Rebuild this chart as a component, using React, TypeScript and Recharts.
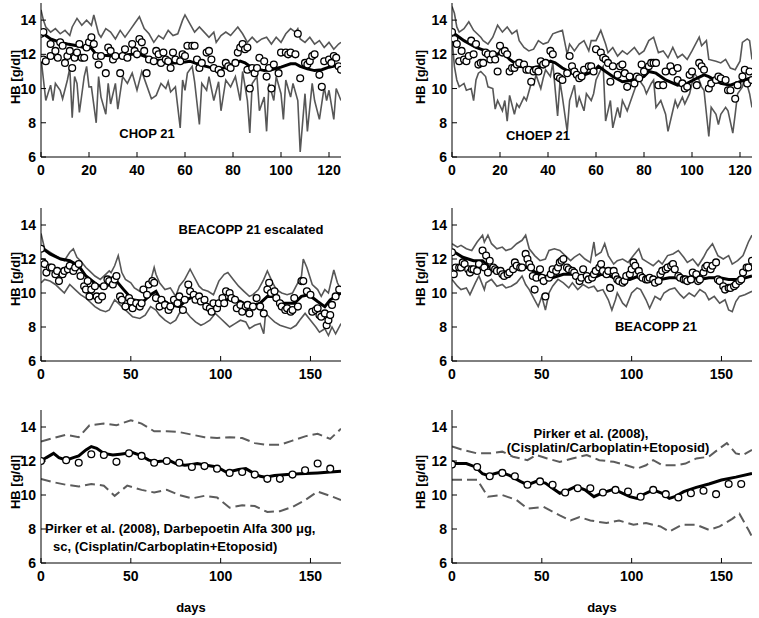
import React from "react"
import { ComposedChart, Line, Scatter, XAxis, YAxis } from "recharts"

type Pt = [number, number]

// CHOP 21 (top left)
const chop21Upper: Pt[] = [[0,14.6],[1,14.0],[2,13.6],[4,13.3],[6,13.5],[8,13.2],[10,13.4],[12,13.1],[13,13.6],[15,14.1],[17,13.7],[19,14.0],[21,13.7],[22,14.3],[24,13.2],[25,13.0],[27,13.5],[29,13.3],[31,12.9],[33,13.4],[35,13.0],[37,13.4],[39,13.8],[41,14.2],[43,13.5],[45,13.2],[47,12.7],[49,13.1],[51,12.9],[53,13.4],[55,13.1],[57,13.2],[59,14.0],[60,14.3],[62,13.8],[64,13.3],[66,13.6],[68,13.3],[70,13.0],[72,13.3],[73,12.7],[75,13.1],[77,13.3],[79,13.1],[82,13.6],[84,13.2],[86,12.7],[88,13.0],[90,12.7],[92,12.9],[94,13.0],[96,12.6],[98,13.0],[100,12.7],[102,13.2],[104,13.5],[106,13.3],[107,13.5],[108,12.9],[110,12.7],[112,13.0],[114,12.6],[116,12.8],[118,12.4],[120,12.7],[122,12.3],[124,12.6],[125,12.7]]
const chop21Lower: Pt[] = [[0,11.8],[2,9.3],[4,10.2],[5,9.3],[6,10.3],[8,9.9],[9,9.4],[11,10.5],[12,11.2],[13,8.3],[14,10.7],[15,10.3],[16,8.6],[18,10.7],[19,11.3],[20,10.1],[21,10.1],[23,8.0],[24,10.7],[25,9.5],[27,8.5],[28,10.3],[29,9.1],[31,10.3],[32,8.8],[34,10.7],[36,10.3],[38,10.9],[40,9.9],[42,11.0],[44,10.2],[46,9.4],[48,9.6],[50,10.3],[52,10.0],[53,10.4],[54,9.8],[56,10.1],[58,7.7],[59,10.5],[60,9.9],[61,10.9],[63,11.3],[64,10.4],[66,7.9],[67,10.3],[69,9.9],[70,10.7],[72,9.3],[74,10.4],[75,8.7],[77,10.5],[79,10.1],[81,10.7],[83,9.3],[84,11.0],[86,9.3],[87,7.4],[88,10.3],[90,10.7],[91,8.7],[93,9.5],[94,7.5],[95,10.3],[97,9.3],[98,10.7],[100,9.7],[101,8.2],[102,10.5],[104,9.5],[105,10.3],[107,9.3],[108,6.3],[110,9.7],[111,7.5],[113,10.3],[114,9.3],[116,8.2],[118,10.1],[119,9.3],[120,9.9],[122,8.2],[123,10.0],[125,9.3]]
const chop21Mean: Pt[] = [[0,13.3],[4,12.9],[8,12.7],[11,12.6],[15,12.5],[18,12.4],[21,12.35],[23,12.0],[26,11.95],[30,11.9],[34,11.95],[38,12.0],[41,12.0],[43,11.9],[47,11.7],[52,11.5],[56,11.5],[60,11.55],[62,11.6],[64,11.5],[66,11.4],[70,11.25],[73,11.15],[76,11.2],[79,11.35],[83,11.6],[85,11.5],[87,11.3],[90,11.15],[93,11.05],[96,11.1],[100,11.25],[104,11.45],[106,11.45],[108,11.3],[111,11.15],[114,11.05],[117,11.1],[120,11.25],[123,11.35],[125,11.3]]
const chop21Obs: Pt[] = [[0,13.2],[1,13.3],[1,11.7],[2,11.6],[4,11.9],[4,12.6],[6,12.2],[7,11.8],[8,12.7],[9,12.5],[10,11.5],[11,11.9],[12,12.2],[13,11.2],[14,11.8],[15,12.1],[16,12.6],[17,11.8],[18,11.8],[19,12.4],[20,12.7],[21,13.0],[22,12.6],[23,11.9],[24,11.4],[25,11.9],[27,10.9],[28,12.4],[29,12.2],[30,11.7],[31,11.9],[33,10.9],[34,11.9],[35,12.3],[36,11.8],[38,12.6],[39,12.2],[40,12.0],[41,12.9],[42,12.7],[43,12.2],[44,10.9],[45,11.7],[47,11.6],[48,12.2],[49,12.0],[50,11.5],[51,12.1],[52,11.7],[53,11.6],[54,11.2],[55,12.1],[56,11.7],[58,11.6],[59,12.0],[60,11.9],[61,12.5],[63,12.5],[64,12.5],[65,11.7],[66,11.2],[67,11.5],[69,12.1],[70,12.2],[71,11.7],[72,11.2],[74,11.1],[75,10.9],[77,11.5],[78,11.3],[79,11.2],[81,11.5],[82,12.1],[83,12.4],[84,12.6],[85,12.3],[86,12.4],[86,11.1],[87,10.0],[88,11.2],[89,10.9],[90,11.2],[91,11.8],[93,11.6],[94,10.7],[95,11.2],[96,10.0],[97,11.4],[99,10.9],[100,12.1],[102,12.1],[103,12.0],[104,12.1],[106,12.0],[107,13.2],[108,10.6],[110,11.5],[111,11.4],[112,11.6],[113,11.9],[114,12.0],[116,10.8],[117,10.1],[118,11.6],[120,11.7],[121,11.5],[122,11.9],[123,11.8],[124,11.3],[125,11.1]]

// CHOEP 21 (top right)
const choep21Upper: Pt[] = [[0,14.8],[1,14.4],[2,13.6],[3,13.3],[5,13.5],[7,13.9],[9,13.4],[12,13.0],[13,12.8],[15,12.6],[17,13.0],[19,13.7],[21,13.3],[23,13.6],[25,13.2],[27,13.4],[28,12.8],[30,12.4],[32,12.2],[34,12.3],[36,12.8],[38,12.6],[40,12.7],[42,13.2],[44,13.3],[46,13.4],[48,12.0],[49,12.6],[51,12.2],[53,12.6],[55,12.8],[57,12.2],[58,12.8],[60,12.8],[62,13.4],[64,12.6],[65,12.1],[67,12.4],[69,11.9],[71,12.2],[73,12.0],[76,12.4],[78,12.0],[80,12.2],[82,12.8],[84,13.0],[86,12.1],[88,12.2],[90,11.8],[92,12.4],[94,11.8],[96,12.0],[98,11.7],[100,12.2],[103,13.0],[104,12.5],[106,12.8],[107,11.7],[110,11.6],[112,11.5],[114,11.7],[116,11.2],[118,11.1],[120,11.6],[121,12.7],[123,12.9],[124,12.8],[125,11.7]]
const choep21Lower: Pt[] = [[0,13.0],[1,11.3],[2,10.5],[3,10.1],[5,10.3],[6,9.9],[8,10.0],[9,9.3],[10,10.5],[11,10.9],[12,11.0],[14,10.7],[15,10.1],[17,10.0],[18,8.8],[19,9.3],[21,8.7],[22,9.3],[23,8.1],[24,9.6],[26,8.5],[27,9.1],[28,8.9],[30,9.5],[31,9.3],[33,10.3],[34,10.2],[35,10.8],[37,10.0],[38,10.6],[39,11.1],[41,10.7],[42,11.5],[44,8.4],[45,10.4],[46,9.5],[48,7.5],[49,9.3],[51,10.2],[52,8.9],[53,9.5],[55,8.7],[56,9.7],[58,9.3],[59,9.7],[60,10.5],[62,11.1],[63,11.3],[64,8.1],[66,9.3],[67,7.7],[69,8.9],[70,8.3],[71,9.3],[73,8.7],[74,9.1],[76,9.9],[77,10.3],[78,10.5],[80,10.1],[81,9.7],[83,10.3],[84,10.5],[85,8.9],[87,9.3],[89,8.5],[90,7.5],[92,8.7],[93,9.3],[94,8.9],[96,9.5],[97,9.1],[99,9.7],[100,10.3],[101,10.9],[103,10.5],[104,10.1],[105,9.9],[107,7.2],[108,8.9],[110,8.5],[111,7.9],[112,8.5],[114,8.9],[115,8.7],[117,7.4],[118,8.5],[119,9.7],[121,10.1],[122,10.7],[124,9.7],[125,8.9]]
const choep21Mean: Pt[] = [[0,13.3],[5,12.8],[10,12.4],[16,12.1],[19,12.0],[21,12.2],[24,11.7],[28,11.3],[33,11.2],[37,11.3],[41,11.6],[43,11.5],[46,11.2],[50,10.9],[55,10.8],[59,11.0],[61,11.3],[64,11.0],[67,10.7],[71,10.4],[76,10.5],[80,10.7],[82,11.0],[85,10.9],[89,10.5],[94,10.2],[98,10.3],[102,10.6],[105,10.8],[107,10.7],[112,10.3],[116,10.2],[120,10.4],[124,10.6],[125,10.6]]
const choep21Obs: Pt[] = [[0,13.3],[1,12.9],[2,12.6],[3,11.6],[4,12.2],[5,11.7],[6,11.6],[7,11.9],[8,12.8],[9,12.0],[10,12.6],[11,11.4],[12,11.5],[13,11.5],[14,12.1],[15,12.0],[16,11.7],[17,12.0],[18,11.7],[19,11.0],[20,12.5],[21,12.1],[22,12.2],[23,12.0],[24,11.0],[25,11.2],[26,11.2],[27,11.4],[28,11.5],[30,11.4],[31,11.1],[32,11.1],[33,10.4],[34,11.0],[35,11.1],[36,11.0],[37,11.6],[38,11.4],[39,11.5],[41,12.2],[42,12.0],[44,10.7],[45,10.6],[46,10.5],[48,10.9],[49,11.9],[50,11.3],[51,11.0],[52,10.8],[53,10.6],[54,10.7],[55,11.1],[57,11.3],[58,11.3],[59,11.0],[60,12.3],[62,12.1],[63,11.8],[64,11.7],[65,11.5],[66,10.4],[67,11.3],[69,10.8],[70,11.3],[71,11.4],[72,10.9],[73,10.1],[74,10.7],[76,10.3],[77,10.7],[78,10.6],[79,11.4],[80,11.0],[82,11.3],[83,11.5],[84,11.5],[85,11.5],[86,10.2],[88,10.2],[89,11.0],[91,11.3],[92,11.0],[94,11.2],[94,10.5],[96,10.3],[97,10.0],[98,10.1],[99,10.8],[100,11.0],[102,10.2],[103,11.5],[104,11.3],[105,11.1],[107,10.0],[108,10.3],[110,10.5],[111,10.7],[112,10.6],[114,10.5],[115,9.9],[116,9.9],[118,9.4],[119,10.2],[121,10.7],[122,11.1],[123,10.3],[124,11.0],[125,10.5]]

// BEACOPP 21 escalated (middle left)
const beaEscUpper: Pt[] = [[0,13.5],[2,12.6],[5,12.4],[8,12.2],[11,12.0],[13,11.9],[16,12.4],[18,12.6],[20,12.1],[22,11.9],[25,11.5],[27,11.3],[30,11.0],[33,10.8],[36,11.1],[38,11.3],[39,11.2],[41,11.6],[43,12.2],[45,11.2],[47,10.8],[50,10.6],[52,10.3],[55,10.1],[58,10.2],[61,10.7],[63,11.5],[64,11.1],[66,10.6],[69,10.2],[72,10.3],[75,9.8],[77,10.4],[80,10.8],[83,11.4],[85,11.0],[88,10.4],[90,10.2],[93,10.1],[96,9.9],[99,10.7],[102,11.1],[104,11.2],[107,10.8],[110,10.4],[113,10.1],[116,9.8],[118,9.9],[121,10.2],[124,10.8],[126,11.3],[129,10.6],[131,10.2],[134,10.0],[137,9.9],[140,10.0],[142,10.4],[145,11.0],[146,12.0],[148,11.5],[151,10.5],[154,10.2],[156,9.8],[158,10.2],[160,10.0],[163,11.35],[165,10.6],[167,10.2]]
const beaEscLower: Pt[] = [[0,10.6],[2,10.8],[5,10.7],[8,10.5],[11,10.2],[13,10.0],[16,10.5],[19,10.2],[22,9.9],[25,9.7],[27,9.5],[30,9.2],[33,9.0],[36,8.9],[38,9.0],[41,9.6],[43,9.4],[46,9.1],[49,8.8],[51,8.6],[55,8.5],[58,8.7],[61,9.2],[64,9.0],[66,8.7],[69,8.4],[72,8.2],[75,8.4],[77,8.8],[80,9.0],[83,8.6],[86,8.3],[89,8.1],[91,8.2],[94,8.4],[97,8.8],[100,8.5],[103,8.2],[105,8.0],[108,8.2],[111,8.4],[114,8.3],[116,7.9],[119,8.1],[122,8.2],[124,7.6],[125,8.8],[128,8.5],[130,8.3],[133,8.1],[136,8.0],[139,7.9],[142,8.1],[144,8.4],[147,8.8],[150,8.4],[153,8.0],[155,7.7],[158,7.9],[160,7.5],[162,8.0],[164,7.6],[167,8.2]]
const beaEscMean: Pt[] = [[0,12.7],[5,12.3],[11,12.0],[16,11.9],[21,11.6],[25,11.0],[31,10.5],[35,10.3],[38,10.5],[42,10.7],[46,10.2],[51,9.6],[57,9.5],[61,9.9],[64,10.1],[66,9.7],[72,9.3],[77,9.2],[81,9.6],[85,9.8],[90,9.4],[96,9.2],[102,9.5],[105,9.7],[111,9.5],[116,9.2],[122,9.4],[126,9.8],[129,9.8],[135,9.4],[141,9.4],[145,9.8],[149,9.9],[154,9.5],[158,9.2],[161,9.6],[167,10.0]]
const beaEscObs: Pt[] = [[0,12.6],[1,11.8],[2,11.7],[3,11.2],[5,11.5],[6,11.5],[8,11.1],[9,11.3],[10,10.7],[12,11.1],[13,11.3],[15,11.4],[16,11.6],[18,11.3],[19,11.5],[21,11.7],[22,11.0],[24,10.4],[25,10.2],[26,10.7],[27,9.8],[28,10.2],[30,10.4],[31,9.8],[32,9.6],[34,9.8],[35,10.4],[37,10.8],[38,10.7],[40,10.5],[41,10.8],[42,11.0],[44,9.8],[45,9.6],[47,9.2],[49,9.7],[50,9.5],[51,9.1],[53,9.4],[55,9.2],[56,9.4],[57,10.2],[59,9.9],[60,10.5],[62,10.7],[63,10.6],[64,9.7],[66,9.2],[67,9.6],[69,9.3],[71,9.0],[72,9.2],[74,9.6],[76,9.4],[77,9.8],[79,9.0],[80,9.6],[82,10.5],[83,10.1],[85,9.9],[86,9.6],[88,9.8],[89,9.5],[91,9.6],[92,9.2],[94,9.1],[95,8.9],[96,9.4],[98,9.1],[99,9.4],[101,9.7],[102,9.4],[103,10.1],[105,10.0],[106,9.7],[108,9.6],[109,9.1],[111,9.3],[112,8.9],[114,9.2],[115,9.3],[116,8.8],[118,9.2],[120,9.7],[122,9.2],[124,8.8],[126,10.2],[127,10.6],[128,10.0],[130,10.1],[131,9.7],[133,9.4],[134,9.2],[136,9.0],[137,9.1],[139,8.9],[140,9.0],[141,9.7],[143,9.2],[145,10.7],[146,10.7],[148,10.1],[150,9.9],[151,8.9],[153,9.0],[154,9.1],[155,8.7],[156,8.6],[158,8.8],[159,8.1],[160,8.4],[161,8.7],[162,9.3],[164,9.8],[166,10.2]]

// BEACOPP 21 (middle right)
const beaUpper: Pt[] = [[0,12.9],[3,12.7],[5,12.8],[8,12.6],[11,12.5],[14,13.0],[17,13.4],[18,13.0],[20,13.4],[22,12.9],[25,12.6],[28,12.7],[30,12.5],[33,12.6],[36,12.9],[39,13.1],[41,13.4],[43,12.6],[46,12.2],[49,11.9],[52,12.0],[54,12.5],[57,12.6],[60,12.5],[63,12.2],[66,11.9],[68,12.1],[71,12.3],[74,12.0],[77,11.8],[79,13.0],[80,12.2],[83,12.4],[85,12.9],[87,12.2],[90,11.7],[92,11.9],[95,12.0],[98,11.8],[101,12.2],[104,12.6],[106,12.0],[109,11.8],[112,11.6],[115,11.9],[117,11.7],[120,12.2],[123,12.3],[126,12.5],[129,12.1],[131,11.8],[134,12.0],[137,11.6],[140,12.1],[142,12.5],[145,12.9],[148,12.2],[151,12.0],[154,12.2],[156,11.7],[159,11.9],[162,12.2],[165,13.0],[167,13.4]]
const beaLower: Pt[] = [[0,10.8],[3,10.4],[5,10.2],[8,10.3],[10,9.9],[13,10.6],[15,11.0],[18,10.2],[19,10.6],[22,10.8],[25,10.4],[28,10.5],[30,10.3],[33,10.4],[36,10.6],[39,11.0],[41,10.5],[43,10.2],[46,9.6],[48,9.2],[50,9.8],[52,9.0],[54,10.0],[56,10.4],[59,10.8],[62,10.6],[65,10.3],[67,10.6],[70,10.2],[73,10.5],[76,10.3],[79,10.4],[81,10.1],[84,10.2],[87,9.6],[89,9.0],[91,9.6],[92,10.0],[95,9.4],[97,9.2],[100,10.0],[103,10.3],[105,10.2],[108,9.6],[110,9.1],[113,9.8],[116,9.6],[118,10.0],[121,10.2],[124,10.3],[127,9.9],[129,9.7],[132,10.0],[135,9.8],[138,10.2],[141,10.0],[143,9.6],[146,9.8],[149,9.4],[152,9.6],[154,9.0],[156,8.9],[158,9.5],[160,9.8],[163,9.9],[167,10.1]]
const beaMean: Pt[] = [[0,12.5],[6,12.1],[12,11.9],[17,11.9],[21,11.5],[27,11.3],[32,11.2],[38,11.5],[42,11.5],[46,11.25],[51,11.0],[56,10.9],[62,11.1],[67,11.1],[73,10.9],[79,10.9],[83,11.1],[88,11.0],[93,10.8],[99,10.8],[104,11.0],[110,10.9],[116,10.8],[121,10.9],[127,10.9],[132,10.8],[138,10.8],[143,10.9],[149,10.9],[154,10.8],[160,10.8],[167,11.0]]
const beaObs: Pt[] = [[0,12.4],[1,11.1],[2,11.5],[4,11.5],[5,11.5],[6,11.8],[7,11.7],[9,11.4],[10,11.2],[11,11.4],[12,11.4],[14,11.3],[15,11.7],[17,12.5],[18,11.5],[19,12.2],[20,11.2],[21,11.9],[23,11.5],[24,11.4],[25,11.3],[27,11.3],[28,11.1],[29,11.0],[31,11.1],[32,11.2],[34,11.4],[35,11.8],[36,11.6],[38,11.5],[39,11.5],[41,12.3],[42,12.0],[43,11.7],[44,11.5],[45,11.0],[46,10.2],[47,10.9],[49,11.4],[50,10.9],[51,10.7],[52,9.8],[54,10.9],[55,11.1],[56,11.4],[58,11.3],[59,11.5],[60,11.8],[61,11.9],[62,12.0],[64,11.5],[65,11.4],[67,11.3],[68,11.2],[69,11.0],[71,10.7],[72,10.9],[73,11.4],[75,11.0],[76,10.8],[78,10.9],[79,11.1],[80,11.3],[82,11.5],[83,11.7],[84,11.3],[86,11.1],[87,11.3],[88,10.3],[90,11.3],[91,11.0],[92,10.8],[93,10.7],[95,10.6],[96,10.7],[97,11.0],[99,11.1],[100,11.4],[101,11.8],[102,11.6],[104,11.3],[105,11.0],[106,10.9],[108,10.8],[109,10.8],[110,10.9],[112,10.8],[113,10.6],[115,10.7],[116,11.1],[117,11.3],[119,11.4],[120,11.5],[122,11.6],[123,11.7],[124,11.4],[126,11.0],[127,10.9],[129,10.8],[130,10.8],[131,10.7],[133,10.8],[134,11.2],[136,11.1],[137,10.7],[138,10.8],[140,11.2],[141,11.5],[142,11.6],[144,11.4],[145,11.6],[147,11.8],[148,10.8],[149,10.7],[151,10.4],[152,10.2],[154,10.3],[155,10.3],[157,10.4],[158,10.5],[160,10.7],[161,10.8],[162,11.2],[164,11.5],[165,11.5],[167,11.9]]

// Pirker et al. (2008), Darbepoetin Alfa (bottom left)
const darbUpper: Pt[] = [[0,13.15],[7,13.35],[14,13.55],[21,13.4],[27,14.1],[35,14.2],[42,14.1],[50,14.4],[56,14.2],[63,13.75],[70,13.75],[77,13.7],[84,13.55],[91,13.4],[98,13.35],[105,13.4],[112,13.35],[119,13.05],[126,12.95],[133,12.95],[140,13.2],[147,13.45],[154,13.6],[161,13.3],[167,13.9]]
const darbLower: Pt[] = [[0,10.95],[7,10.75],[14,10.6],[21,10.5],[28,10.65],[35,10.55],[41,9.95],[48,10.55],[56,10.3],[63,10.15],[70,10.3],[77,10.0],[84,9.8],[91,9.95],[98,9.85],[105,9.25],[112,9.4],[119,9.35],[126,9.0],[133,9.05],[140,9.3],[147,9.7],[154,10.2],[161,9.95],[167,9.7]]
const darbMean: Pt[] = [[0,12.0],[3,12.2],[7,12.45],[10,12.2],[14,12.05],[18,12.2],[21,12.3],[25,12.65],[28,12.85],[31,12.75],[35,12.45],[40,12.35],[44,12.4],[48,12.45],[51,12.5],[55,12.35],[60,12.05],[64,11.95],[68,12.0],[71,12.05],[75,11.85],[80,11.75],[84,11.8],[87,11.85],[92,11.75],[98,11.65],[103,11.35],[106,11.4],[110,11.5],[114,11.55],[118,11.3],[122,11.1],[125,11.05],[130,11.15],[137,11.2],[144,11.25],[154,11.3],[161,11.35],[167,11.4]]
const darbObs: Pt[] = [[0,12.0],[14,12.05],[21,11.9],[28,12.4],[35,12.35],[42,11.95],[49,12.45],[56,12.3],[63,11.9],[70,12.0],[77,11.9],[84,11.65],[91,11.7],[98,11.55],[105,11.3],[112,11.35],[119,11.2],[126,10.95],[133,10.95],[140,11.2],[147,11.45],[154,11.85],[161,11.55]]

// Pirker et al. (2008) (bottom right)
const pirkUpper: Pt[] = [[0,12.85],[6,12.65],[14,12.45],[21,12.45],[28,12.55],[34,12.25],[42,12.05],[47,12.35],[53,12.15],[60,11.95],[67,12.15],[75,12.35],[82,12.05],[90,11.95],[97,11.75],[103,11.55],[108,11.75],[112,12.05],[117,11.75],[125,11.75],[130,11.85],[136,12.15],[143,12.25],[149,12.75],[153,13.05],[158,12.45],[162,12.35],[167,12.65]]
const pirkLower: Pt[] = [[0,10.9],[8,10.9],[14,10.9],[20,9.9],[28,10.0],[36,9.7],[42,9.2],[51,9.3],[60,8.8],[66,8.5],[71,8.7],[77,8.5],[86,8.35],[93,8.5],[101,8.25],[108,8.35],[116,8.15],[121,7.85],[128,8.25],[136,8.25],[143,7.95],[149,8.15],[156,8.6],[160,8.9],[165,7.95],[167,7.55]]
const pirkMean: Pt[] = [[0,11.85],[8,11.85],[13,11.65],[17,11.25],[20,11.15],[27,11.35],[32,11.15],[38,10.8],[42,10.6],[47,10.8],[52,10.7],[56,10.4],[60,10.1],[65,10.3],[69,10.5],[74,10.3],[79,9.9],[83,10.1],[89,10.3],[93,10.2],[99,9.9],[103,9.8],[106,10.0],[112,10.3],[117,10.1],[121,9.8],[124,9.9],[129,10.2],[136,10.45],[143,10.65],[150,10.88],[158,11.05],[167,11.27]]
const pirkObs: Pt[] = [[0,11.8],[14,11.65],[21,11.1],[28,11.3],[35,11.1],[42,10.6],[49,10.8],[56,10.6],[63,10.15],[70,10.4],[77,10.4],[84,10.15],[91,10.3],[98,10.2],[105,9.9],[112,10.3],[119,10.05],[126,9.85],[133,10.1],[140,10.25],[147,10.05],[154,10.65],[161,10.65]]

const hbTicks = [6, 8, 10, 12, 14]
const shortDayTicks = [0, 20, 40, 60, 80, 100, 120]
const longDayTicks = [0, 50, 100, 150]

const FONT = "'Liberation Sans', Arial, Helvetica, sans-serif"

const rows = (pts: Pt[]) => pts.map(([day, hb]) => ({ day, hb }))
const blank = () => ""

function Ring(props: any) {
  const { cx, cy } = props
  if (cx == null || cy == null) return <g />
  return <circle cx={cx} cy={cy} r={3.4} fill="#fff" stroke="#000" strokeWidth={1.3} />
}

interface PanelProps {
  left: number
  top: number
  width: number
  plotH: number
  maxDay: number
  xTicks: number[]
  upper: Pt[]
  lower: Pt[]
  mean: Pt[]
  obs: Pt[]
  dashed?: boolean
}

function Panel(p: PanelProps) {
  const height = 3 + p.plotH + 28
  const tickFont = { fill: "#000", fontSize: 14, fontWeight: 700, fontFamily: FONT }
  const band = p.dashed
    ? { stroke: "#5c5c5c", strokeWidth: 2, strokeDasharray: "10 5" }
    : { stroke: "#575757", strokeWidth: 1.6 }
  return (
    <div style={{ position: "absolute", left: p.left, top: p.top }}>
      <ComposedChart width={p.width} height={height} margin={{ top: 3, right: p.width - 341, bottom: 0, left: 0 }}>
        <XAxis xAxisId="b" dataKey="day" type="number" domain={[0, p.maxDay]} ticks={p.xTicks} allowDataOverflow interval={0}
          height={28} tickSize={-5} tickMargin={13} stroke="#000" tick={tickFont} />
        <XAxis xAxisId="t" orientation="top" dataKey="day" type="number" domain={[0, p.maxDay]} ticks={p.xTicks} allowDataOverflow
          interval={0} height={0} tickSize={-5} tickFormatter={blank} stroke="#000" />
        <YAxis yAxisId="l" dataKey="hb" type="number" domain={[6, 15]} ticks={hbTicks} allowDataOverflow interval={0}
          width={41} tickSize={-5} tickMargin={10} stroke="#000" tick={tickFont} />
        <YAxis yAxisId="r" orientation="right" dataKey="hb" type="number" domain={[6, 15]} ticks={hbTicks} allowDataOverflow
          interval={0} width={0} tickSize={-5} tickFormatter={blank} stroke="#000" />
        <Line xAxisId="b" yAxisId="l" data={rows(p.upper)} dataKey="hb" type="linear" dot={false} activeDot={false}
          isAnimationActive={false} {...band} />
        <Line xAxisId="b" yAxisId="l" data={rows(p.lower)} dataKey="hb" type="linear" dot={false} activeDot={false}
          isAnimationActive={false} {...band} />
        <Scatter xAxisId="b" yAxisId="l" data={rows(p.obs)} dataKey="hb" shape={Ring} isAnimationActive={false} />
        <Line xAxisId="b" yAxisId="l" data={rows(p.mean)} dataKey="hb" type="linear" dot={false} activeDot={false}
          stroke="#000" strokeWidth={3} isAnimationActive={false} />
      </ComposedChart>
    </div>
  )
}

const txt: React.CSSProperties = {
  position: "absolute",
  whiteSpace: "nowrap",
  fontFamily: FONT,
  fontWeight: 700,
  fontSize: 13,
  color: "#000",
  lineHeight: 1,
}

function Centered({ x, y, children }: { x: number; y: number; children: React.ReactNode }) {
  return <div style={{ ...txt, left: x, top: y, transform: "translate(-50%, -50%)" }}>{children}</div>
}

function LeftText({ x, y, children }: { x: number; y: number; children: React.ReactNode }) {
  return <div style={{ ...txt, left: x, top: y, transform: "translateY(-50%)" }}>{children}</div>
}

function HbLabel({ x, y }: { x: number; y: number }) {
  return (
    <div style={{ ...txt, left: x, top: y, transform: "translate(-50%, -50%) rotate(-90deg)" }}>HB [g/dl]</div>
  )
}

export default function App() {
  return (
    <div style={{ position: "absolute", left: 0, top: 0, width: 759, height: 618, background: "#fff", overflow: "hidden" }}>
      <Panel left={0} top={0} width={350} plotH={154} maxDay={125} xTicks={shortDayTicks}
        upper={chop21Upper} lower={chop21Lower} mean={chop21Mean} obs={chop21Obs} />
      <Panel left={411} top={0} width={348} plotH={154} maxDay={125} xTicks={shortDayTicks}
        upper={choep21Upper} lower={choep21Lower} mean={choep21Mean} obs={choep21Obs} />
      <Panel left={0} top={205} width={350} plotH={153} maxDay={167} xTicks={longDayTicks}
        upper={beaEscUpper} lower={beaEscLower} mean={beaEscMean} obs={beaEscObs} />
      <Panel left={411} top={205} width={348} plotH={153} maxDay={167} xTicks={longDayTicks}
        upper={beaUpper} lower={beaLower} mean={beaMean} obs={beaObs} />
      <Panel left={0} top={407} width={350} plotH={153} maxDay={167} xTicks={longDayTicks} dashed
        upper={darbUpper} lower={darbLower} mean={darbMean} obs={darbObs} />
      <Panel left={411} top={407} width={348} plotH={153} maxDay={167} xTicks={longDayTicks} dashed
        upper={pirkUpper} lower={pirkLower} mean={pirkMean} obs={pirkObs} />

      <HbLabel x={15} y={77} />
      <HbLabel x={420} y={77} />
      <HbLabel x={15} y={279} />
      <HbLabel x={420} y={279} />
      <HbLabel x={15} y={482} />
      <HbLabel x={420} y={482} />

      <Centered x={147} y={133}>CHOP 21</Centered>
      <Centered x={538} y={135}>CHOEP 21</Centered>
      <Centered x={251} y={229}>BEACOPP 21 escalated</Centered>
      <Centered x={656} y={326}>BEACOPP 21</Centered>
      <LeftText x={45} y={528}>Pirker et al. (2008), Darbepoetin Alfa 300 μg,</LeftText>
      <LeftText x={53} y={546}>sc, (Cisplatin/Carboplatin+Etoposid)</LeftText>
      <Centered x={591} y={433}>Pirker et al. (2008),</Centered>
      <Centered x={608} y={447}>(Cisplatin/Carboplatin+Etoposid)</Centered>

      <Centered x={191} y={607}>days</Centered>
      <Centered x={602} y={607}>days</Centered>
    </div>
  )
}
